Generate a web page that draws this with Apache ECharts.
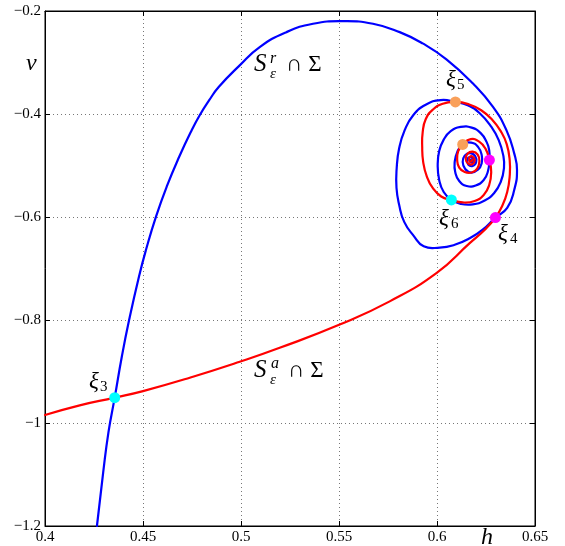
<!DOCTYPE html>
<html>
<head>
<meta charset="utf-8">
<script src="https://cdn.jsdelivr.net/npm/echarts@6/dist/echarts.min.js"></script>
<style>
html,body{margin:0;padding:0;background:#fff;}
#chart{width:565px;height:546px;}
</style>
</head>
<body>
<div id="chart"></div>
<script>
// ---- data ----
var xTickValues = [0.4, 0.45, 0.5, 0.55, 0.6, 0.65];
var xTickLabels = ['0.4', '0.45', '0.5', '0.55', '0.6', '0.65'];
var yTickValues = [-1.2, -1.0, -0.8, -0.6, -0.4, -0.2];
var yTickLabels = ['\u22121.2', '\u22121', '\u22120.8', '\u22120.6', '\u22120.4', '\u22120.2'];

// S^r_eps ∩ Sigma (blue)
var repellingCurve = [
  [0.4265,-1.2000],[0.42969,-1.09603],[0.43235,-1.01859],[0.43556,-0.95082],[0.43923,-0.87028],
  [0.44296,-0.79923],[0.44796,-0.71539],[0.45153,-0.66370],[0.45663,-0.59923],[0.46209,-0.54114],
  [0.46847,-0.48306],[0.47485,-0.43136],[0.47893,-0.40232],[0.48378,-0.37328],[0.48862,-0.34753],
  [0.49934,-0.30552],[0.50954,-0.27009],[0.52316,-0.24105],[0.53673,-0.22478],[0.55204,-0.21975],
  [0.56735,-0.22478],[0.58097,-0.24105],[0.59270,-0.26292],[0.60480,-0.29390],[0.61837,-0.34095],
  [0.62857,-0.38625],[0.63541,-0.43136],[0.63939,-0.47648],[0.64082,-0.50881],[0.63939,-0.54753],
  [0.63582,-0.58238],[0.62980,-0.60116],[0.62347,-0.62401],[0.61668,-0.64143],[0.60903,-0.65402],
  [0.60138,-0.65944],[0.59321,-0.65692],[0.58811,-0.63659],[0.58327,-0.60949],[0.58071,-0.57657],
  [0.57934,-0.54366],[0.57944,-0.50494],[0.58071,-0.46621],[0.58352,-0.43136],[0.58786,-0.40232],
  [0.59423,-0.38199],[0.60189,-0.37289],[0.60939,-0.37657],[0.61566,-0.38296],[0.62179,-0.39845],
  [0.62776,-0.42498],[0.63148,-0.45073],[0.63378,-0.47977],[0.63418,-0.50494],[0.63250,-0.53204],
  [0.62918,-0.55334],[0.62434,-0.56786],[0.61821,-0.57561],[0.61209,-0.57464],[0.60735,-0.56689],
  [0.60342,-0.55140],[0.60112,-0.52817],[0.60036,-0.49913],[0.60112,-0.47202],[0.60342,-0.44976],
  [0.60699,-0.43330],[0.61209,-0.42498],[0.61770,-0.42652],[0.62230,-0.43717],[0.62536,-0.45460],
  [0.62663,-0.47009],[0.62673,-0.48945],[0.62602,-0.51075],[0.62383,-0.52817],[0.61974,-0.53882],
  [0.61515,-0.53979],[0.61133,-0.53011],[0.60929,-0.51268],[0.60903,-0.49332],[0.61031,-0.47396],
  [0.61311,-0.45905],[0.61745,-0.45557],[0.62102,-0.46428],[0.62281,-0.47977],[0.62281,-0.49526],
  [0.62102,-0.50784],[0.61745,-0.51365],[0.61439,-0.50687],[0.61311,-0.49332],[0.61413,-0.48074],
  [0.61694,-0.47590],[0.61949,-0.48171],[0.62000,-0.49332],[0.61821,-0.50106],[0.61592,-0.49816],
  [0.61541,-0.48848],[0.61719,-0.48364],[0.61847,-0.48945],[0.61745,-0.49429],[0.61668,-0.49042],
  [0.61735,-0.48887]
];

// S^a_eps ∩ Sigma (red)
var attractingCurve = [
  [0.40000,-0.98451],[0.41770,-0.96573],[0.43556,-0.95082],[0.45000,-0.93804],[0.47383,-0.91210],
  [0.49934,-0.88112],[0.51974,-0.85402],[0.55036,-0.80890],[0.57587,-0.76379],[0.59969,-0.70881],
  [0.61668,-0.65073],[0.62520,-0.62168],[0.62980,-0.60116],[0.63327,-0.57851],[0.63582,-0.55140],
  [0.63709,-0.52043],[0.63709,-0.48945],[0.63556,-0.45847],[0.63250,-0.43330],[0.62816,-0.41104],
  [0.62255,-0.39264],[0.61617,-0.38103],[0.60939,-0.37657],[0.60291,-0.38006],[0.59781,-0.39167],
  [0.59423,-0.41007],[0.59270,-0.43524],[0.59245,-0.46428],[0.59296,-0.49332],[0.59474,-0.52043],
  [0.59781,-0.54366],[0.60214,-0.56012],[0.60735,-0.56689],[0.61311,-0.57173],[0.61923,-0.56883],
  [0.62383,-0.55721],[0.62663,-0.53785],[0.62765,-0.51268],[0.62673,-0.48945],[0.62485,-0.46815],
  [0.62153,-0.45363],[0.61719,-0.44879],[0.61311,-0.45905],[0.61082,-0.47202],[0.61031,-0.48945],
  [0.61133,-0.50397],[0.61413,-0.51268],[0.61770,-0.51365],[0.62051,-0.50591],[0.62163,-0.49139],
  [0.62077,-0.47880],[0.61821,-0.47299],[0.61566,-0.47686],[0.61464,-0.48751],[0.61592,-0.49623],
  [0.61821,-0.49720],[0.61923,-0.48945],[0.61821,-0.48267],[0.61668,-0.48364],[0.61643,-0.49042],
  [0.61745,-0.49236],[0.61796,-0.48848]
];

var cyanPoints = [[0.43556,-0.95082],[0.60735,-0.56689]];     // xi3, xi6
var magentaPoints = [[0.62980,-0.60116],[0.62673,-0.48945]];  // xi4, inner
var orangePoints = [[0.60939,-0.37657],[0.61311,-0.45905]];   // xi5, inner

var xMin = 0.4, xMax = 0.65, xStep = 0.05;
var yMin = -1.2, yMax = -0.2, yStep = 0.2;

// ---- chart ----
var SERIF = '"Liberation Serif", "DejaVu Serif", serif';
var chart = echarts.init(document.getElementById('chart'), null, {renderer: 'canvas'});

function xFmt(v){ var i = Math.round((v - xMin) / xStep); return xTickLabels[i] || ''; }
function yFmt(v){ var i = Math.round((v - yMin) / yStep); return yTickLabels[i] || ''; }

function txt(s, x, y, size, italic){
  return {type:'text', x:x, y:y, z:100,
    style:{text:s, font:(italic?'italic ':'') + size + 'px ' + SERIF, fill:'#000',
           align:'left', verticalAlign:'middle'}};
}

function curveRenderer(points, color){
  return function(params, api){
    if (params.dataIndex !== 0) return null;
    var pts = points.map(function(p){ return api.coord(p); });
    return {type:'polyline', shape:{points: pts, smooth: 0.5},
            style:{stroke: color, lineWidth: 2.2, fill: null, lineJoin: 'round', lineCap: 'round'}};
  };
}

function curveSeries(points, color, z){
  return {type:'custom', data: points, encode:{x:0, y:1}, renderItem: curveRenderer(points, color), z: z};
}

var option = {
  backgroundColor: '#fff',
  animation: false,
  grid: {left: 45, right: 30, top: 11, bottom: 20, show: true, borderColor: '#000', borderWidth: 1},
  xAxis: [{
    type: 'value', min: xMin, max: xMax, interval: xStep,
    axisLine: {show: true, onZero: false, lineStyle: {color: '#000', width: 1}},
    axisTick: {show: true, inside: true, length: 5, lineStyle: {color: '#000'}},
    axisLabel: {formatter: xFmt, color: '#000', fontFamily: SERIF, fontSize: 15, margin: 4},
    splitLine: {show: true, lineStyle: {color: '#777', type: [1, 3], width: 1}}
  }, {
    type: 'value', position: 'top', min: xMin, max: xMax, interval: xStep,
    axisLine: {show: true, onZero: false, lineStyle: {color: '#000'}},
    axisTick: {show: true, inside: true, length: 5, lineStyle: {color: '#000'}},
    axisLabel: {show: false}, splitLine: {show: false}
  }],
  yAxis: [{
    type: 'value', min: yMin, max: yMax, interval: yStep,
    axisLine: {show: true, onZero: false, lineStyle: {color: '#000', width: 1}},
    axisTick: {show: true, inside: true, length: 5, lineStyle: {color: '#000'}},
    axisLabel: {formatter: yFmt, color: '#000', fontFamily: SERIF, fontSize: 15, margin: 4},
    splitLine: {show: true, lineStyle: {color: '#777', type: [1, 3], width: 1}}
  }, {
    type: 'value', position: 'right', min: yMin, max: yMax, interval: yStep,
    axisLine: {show: true, onZero: false, lineStyle: {color: '#000'}},
    axisTick: {show: true, inside: true, length: 5, lineStyle: {color: '#000'}},
    axisLabel: {show: false}, splitLine: {show: false}
  }],
  series: [
    curveSeries(repellingCurve, '#0000ff', 2),
    curveSeries(attractingCurve, '#ff0000', 3),
    {type: 'scatter', data: cyanPoints, symbolSize: 11, itemStyle: {color: '#00ffff', opacity: 1}, z: 5},
    {type: 'scatter', data: magentaPoints, symbolSize: 11, itemStyle: {color: '#ff00ff', opacity: 1}, z: 5},
    {type: 'scatter', data: orangePoints, symbolSize: 11, itemStyle: {color: '#f9a05a', opacity: 1}, z: 5}
  ],
  graphic: [
    txt('v', 26, 64, 24, true),
    txt('h', 481, 538, 24, true),
    // S^r_eps ∩ Σ
    txt('S', 254, 64, 25, true), txt('r', 270, 59, 16, true), txt('\u03b5', 270, 74, 15, true),
    txt('\u2229 \u03a3', 286, 65, 23, false),
    // S^a_eps ∩ Σ
    txt('S', 254, 370, 25, true), txt('a', 271, 364, 16, true), txt('\u03b5', 270, 380, 15, true),
    txt('\u2229 \u03a3', 288, 371, 23, false),
    // xi labels
    txt('\u03be', 89, 382, 23, true), txt('3', 100, 387, 15, false),
    txt('\u03be', 446, 80, 23, true), txt('5', 457, 85, 15, false),
    txt('\u03be', 439, 219, 23, true), txt('6', 451, 224, 15, false),
    txt('\u03be', 498, 234, 23, true), txt('4', 510, 239, 15, false)
  ]
};
chart.setOption(option);
</script>
</body>
</html>
